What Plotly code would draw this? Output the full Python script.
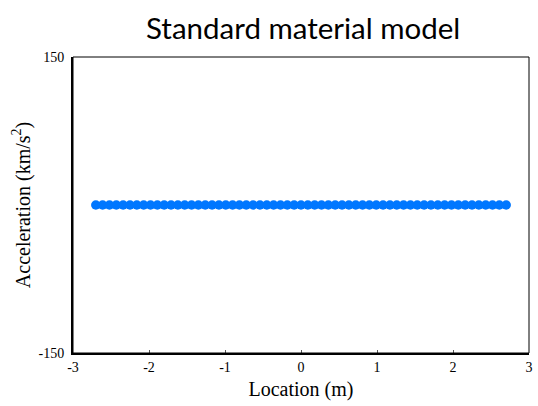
import plotly.graph_objects as go

location_m = [-2.70, -2.61, -2.52, -2.43, -2.34, -2.25, -2.16, -2.07, -1.98, -1.89,
              -1.80, -1.71, -1.62, -1.53, -1.44, -1.35, -1.26, -1.17, -1.08, -0.99,
              -0.90, -0.81, -0.72, -0.63, -0.54, -0.45, -0.36, -0.27, -0.18, -0.09,
              0.00, 0.09, 0.18, 0.27, 0.36, 0.45, 0.54, 0.63, 0.72, 0.81,
              0.90, 0.99, 1.08, 1.17, 1.26, 1.35, 1.44, 1.53, 1.62, 1.71,
              1.80, 1.89, 1.98, 2.07, 2.16, 2.25, 2.34, 2.43, 2.52, 2.61, 2.70]
acceleration = [0, 0, 0, 0, 0, 0, 0, 0, 0, 0,
                0, 0, 0, 0, 0, 0, 0, 0, 0, 0,
                0, 0, 0, 0, 0, 0, 0, 0, 0, 0,
                0, 0, 0, 0, 0, 0, 0, 0, 0, 0,
                0, 0, 0, 0, 0, 0, 0, 0, 0, 0,
                0, 0, 0, 0, 0, 0, 0, 0, 0, 0, 0]
x_ticks = [-3, -2, -1, 0, 1, 2, 3]
y_ticks = [-150, 150]

fig = go.Figure()
fig.add_trace(go.Scatter(
    x=location_m, y=acceleration, mode="markers",
    marker=dict(size=9.5, color="#0077ff", line=dict(width=0)),
    showlegend=False,
))

serif = "Liberation Serif"
fig.update_layout(
    width=538, height=406,
    margin=dict(l=73, r=5, t=57, b=53),
    paper_bgcolor="white", plot_bgcolor="white",
    font=dict(family=serif),
    title=dict(text="Standard material model", x=0.5635, xanchor="center",
               y=0.93, yanchor="middle",
               font=dict(family="Lato", size=29.5, color="black")),
    xaxis=dict(range=[-3, 3], tickvals=x_ticks, ticktext=[str(v) for v in x_ticks],
               showgrid=False, zeroline=False, showline=True, linecolor="black", linewidth=2,
               ticks="inside", ticklen=3, tickcolor="#555", tickwidth=1,
               tickfont=dict(family=serif, size=14, color="black"),
               title=dict(text="Location (m)", font=dict(family=serif, size=20, color="black"), standoff=8)),
    yaxis=dict(range=[-150, 150], tickvals=y_ticks, ticktext=[str(v) for v in y_ticks],
               showgrid=False, zeroline=False, showline=True, linecolor="black", linewidth=2,
               ticks="", ticklabelstandoff=4, tickfont=dict(family=serif, size=14, color="black"),
               title=dict(text="Acceleration (km/s<sup>2</sup>)",
                          font=dict(family=serif, size=20, color="black"), standoff=3)),
    shapes=[dict(type="rect", xref="paper", yref="paper", x0=0, y0=0, x1=1, y1=1,
                 line=dict(color="black", width=1), layer="above")],
)

fig.write_html("out.html")
